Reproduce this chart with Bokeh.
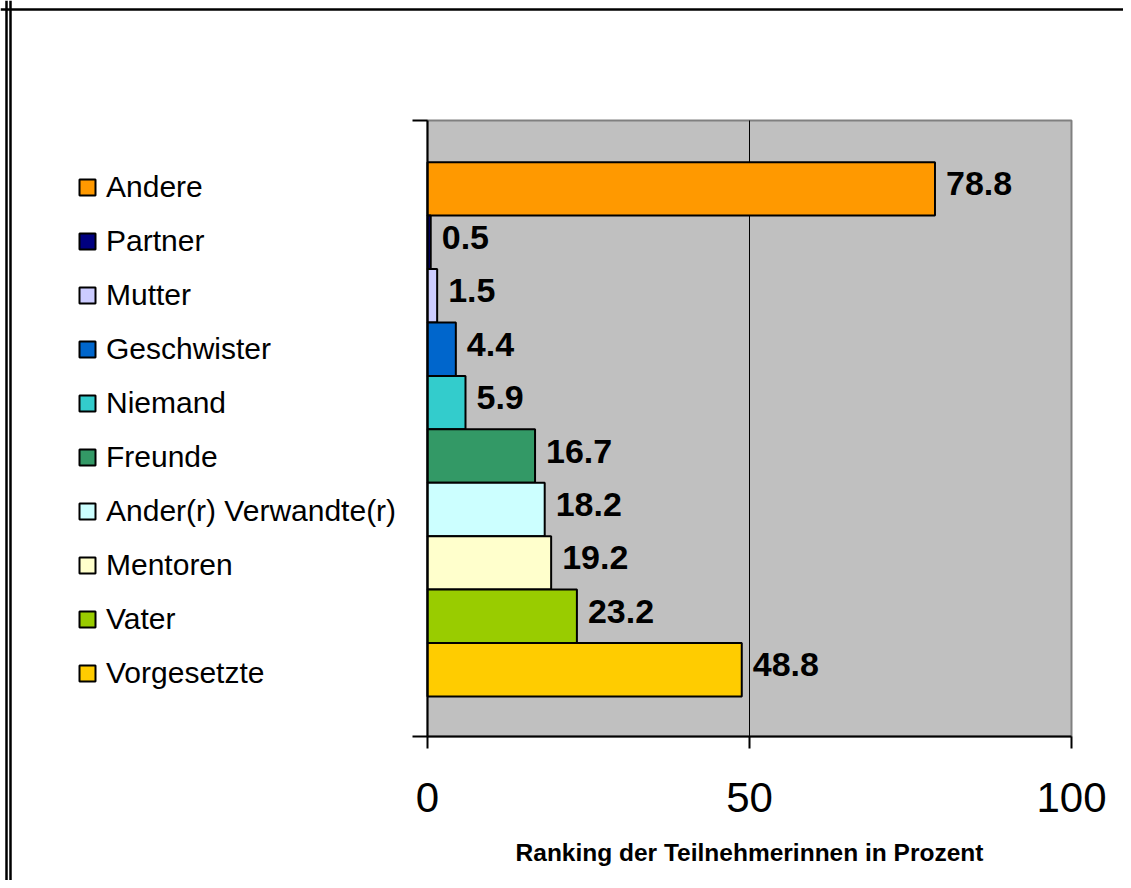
from bokeh.plotting import figure
from bokeh.models import (ColumnDataSource, FixedTicker, Range1d, Legend, LegendItem, Span)
from bokeh.embed import file_html
from bokeh.resources import INLINE
from bokeh.core.properties import value

# ---- data ----
categories = ["Andere", "Partner", "Mutter", "Geschwister", "Niemand", "Freunde",
              "Ander(r) Verwandte(r)", "Mentoren", "Vater", "Vorgesetzte"]
values = [78.8, 0.5, 1.5, 4.4, 5.9, 16.7, 18.2, 19.2, 23.2, 48.8]
colors = ["#FF9900", "#000080", "#CCCCFF", "#0066CC", "#33CCCC", "#339966",
          "#CCFFFF", "#FFFFCC", "#99CC00", "#FFCC00"]
x_ticks = [0, 50, 100]
grid_ticks = [50]
x_title = "Ranking der Teilnehmerinnen in Prozent"

n = len(categories)
ypos = [n - 1 - i + 0.5 for i in range(n)]
labels = [f"{v:.1f}" for v in values]
src = ColumnDataSource(dict(cat=categories, val=values, y=ypos, color=colors, label=labels))

FONT = "Liberation Sans"
W, H = 1123, 880

# plot-area geometry (pixels of the canvas)
AX_LEFT_PX, AX_RIGHT_PX = 427, 1071      # x = 0 .. 100
AX_TOP_PX, AX_BOTTOM_PX = 120, 736
x_lo, x_hi = x_ticks[0], x_ticks[-1]
y_lo, y_hi = -0.749, 10.78               # value-axis band (category slots + gaps)

px_per_x = (AX_RIGHT_PX - AX_LEFT_PX) / (x_hi - x_lo)
px_per_y = (AX_BOTTOM_PX - AX_TOP_PX) / (y_hi - y_lo)
xr = Range1d(x_lo - AX_LEFT_PX / px_per_x, x_hi + (W - AX_RIGHT_PX) / px_per_x)
yr = Range1d(y_lo - (H - AX_BOTTOM_PX) / px_per_y, y_hi + AX_TOP_PX / px_per_y)

def px_x(px):
    return xr.start + px / px_per_x

def px_y(px):
    return yr.end - px / px_per_y

p = figure(width=W, height=H, output_backend="svg", toolbar_location=None,
           x_range=xr, y_range=yr, min_border=0)
p.background_fill_color = "white"
p.border_fill_color = "white"
p.outline_line_color = None
p.xgrid.visible = False
p.ygrid.visible = False

# grey plot area
p.quad(left=x_lo, right=x_hi, bottom=y_lo, top=y_hi, fill_color="#C0C0C0",
       line_color="#808080", line_width=2, level="image")

# vertical gridline(s)
p.segment(x0=grid_ticks, x1=grid_ticks, y0=[y_lo] * len(grid_ticks), y1=[y_hi] * len(grid_ticks),
          line_color="black", line_width=1, level="underlay")

r = p.hbar(y="y", right="val", left=0, height=1.0, source=src, fill_color="color",
           line_color="black", line_width=2)

p.text(x="val", y="y", text="label", source=src, x_offset=11, y_offset=-5,
       text_baseline="middle", text_align="left", text_font=value(FONT),
       text_font_style="bold", text_font_size=value("34px"), text_color="black")

# x axis
xa = p.xaxis[0]
xa.fixed_location = y_lo
xa.bounds = (x_lo, x_hi)
xa.ticker = FixedTicker(ticks=x_ticks)
xa.axis_line_width = 2
xa.axis_line_color = "black"
xa.major_tick_line_width = 2
xa.major_tick_in = 0
xa.major_tick_out = 12
xa.minor_tick_line_color = None
xa.major_label_text_font = FONT
xa.major_label_text_font_size = "42px"
xa.major_label_text_color = "black"
xa.major_label_standoff = 34
xa.axis_label = x_title
xa.axis_label_text_font = FONT
xa.axis_label_text_font_size = "24.5px"
xa.axis_label_text_font_style = "bold"
xa.axis_label_text_color = "black"
xa.axis_label_standoff = 24

# y axis
ya = p.yaxis[0]
ya.fixed_location = x_lo
ya.bounds = (y_lo, y_hi)
ya.ticker = FixedTicker(ticks=[y_lo, y_hi])
ya.axis_line_width = 2
ya.axis_line_color = "black"
ya.major_tick_line_width = 2
ya.major_tick_in = 0
ya.major_tick_out = 15
ya.minor_tick_line_color = None
ya.major_label_overrides = {y_lo: "", y_hi: ""}

# legend
items = [LegendItem(label=c, renderers=[r], index=i) for i, c in enumerate(categories)]
lg = Legend(items=items)
lg.margin = 0
lg.padding = 0
lg.border_line_color = None
lg.background_fill_alpha = 0
lg.glyph_width = 20
lg.glyph_height = 20
lg.label_height = 36
lg.spacing = 18
lg.label_standoff = 9
lg.label_text_font = FONT
lg.label_text_font_size = "30px"
lg.label_text_color = "black"
legend_h = n * lg.label_height + (n - 1) * lg.spacing
legend_top = 187 - lg.label_height / 2
lg.location = (77, H - legend_top - legend_h)
p.add_layout(lg)

# picture frame lines
p.add_layout(Span(location=px_y(9), dimension="width", line_color="black", line_width=2.5))
p.add_layout(Span(location=px_x(6), dimension="height", line_color="black", line_width=2.5))
p.add_layout(Span(location=px_x(10), dimension="height", line_color="black", line_width=2.5))

open("out.html", "w").write(file_html(p, INLINE))
